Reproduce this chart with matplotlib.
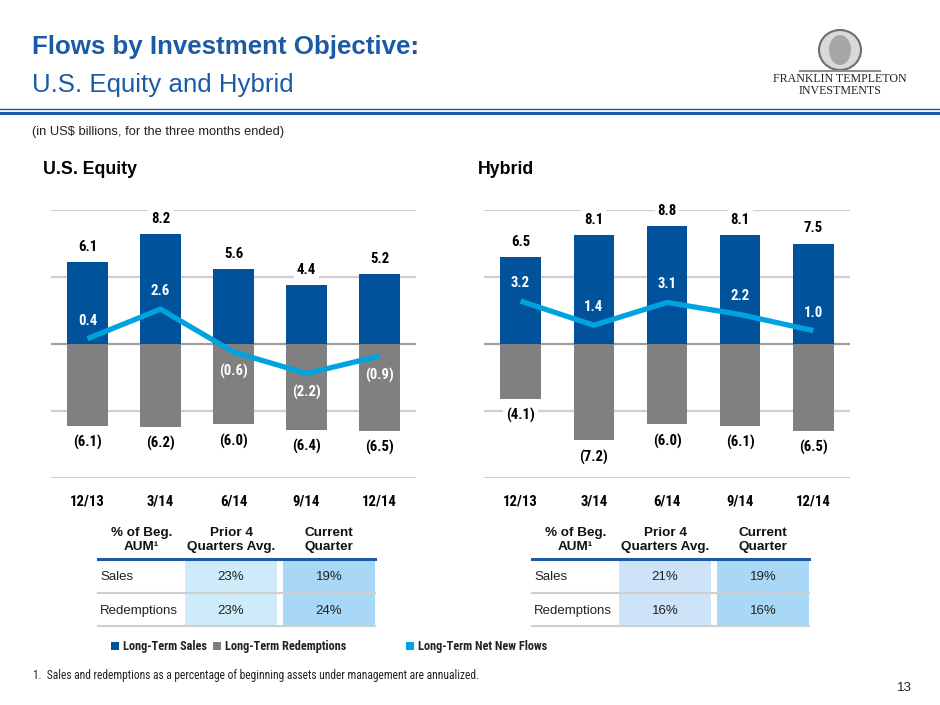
import numpy as np
import matplotlib
matplotlib.use('Agg')
import matplotlib.pyplot as plt
from matplotlib import font_manager as fm
from matplotlib.patches import Rectangle, Ellipse

# ---------------- data ----------------
quarters = ['12/13', '3/14', '6/14', '9/14', '12/14']
equity_sales = [6.1, 8.2, 5.6, 4.4, 5.2]
equity_redemptions = [-6.1, -6.2, -6.0, -6.4, -6.5]
equity_net = [0.4, 2.6, -0.6, -2.2, -0.9]
hybrid_sales = [6.5, 8.1, 8.8, 8.1, 7.5]
hybrid_redemptions = [-4.1, -7.2, -6.0, -6.1, -6.5]
hybrid_net = [3.2, 1.4, 3.1, 2.2, 1.0]
table_columns = ['% of Beg.\nAUM\u00b9', 'Prior 4\nQuarters Avg.', 'Current\nQuarter']
table_rows = ['Sales', 'Redemptions']
equity_table = [['23%', '19%'], ['23%', '24%']]
hybrid_table = [['21%', '19%'], ['16%', '16%']]
series_names = ['Long-Term Sales', 'Long-Term Redemptions', 'Long-Term Net New Flows']

# ---------------- style ----------------
SALES = '#00529B'
GRAY = '#808080'
NET = '#00A3E0'
TITLE = '#1B5AA5'
GRID = '#CFCFCF'
SANS = ['Liberation Sans', 'DejaVu Sans']
plt.rcParams['font.family'] = SANS


def pick_narrow():
    entries = fm.fontManager.ttflist
    names = {e.name for e in entries}
    for name, k in [('Liberation Sans Narrow', 1.0), ('Arial Narrow', 1.0),
                    ('Roboto Condensed', 1.0), ('Open Sans Condensed', 0.95),
                    ('Noto Sans Condensed', 0.95), ('DejaVu Sans Condensed', 0.9)]:
        if name in names:
            return dict(family=[name, 'DejaVu Sans']), k
    for fam, k in [('Roboto', 1.0), ('Noto Sans', 0.95), ('Open Sans', 0.95), ('DejaVu Sans', 0.88)]:
        if any(e.name == fam and str(e.stretch) in ('condensed', 'semi-condensed')
               and str(e.weight) in ('700', 'bold') for e in entries):
            return dict(family=[fam], fontstretch='condensed'), k
    return dict(family=SANS), 0.85


NARROW, K = pick_narrow()

W, H = 940, 705
fig = plt.figure(figsize=(W / 100, H / 100), dpi=100)
fig.patch.set_facecolor('white')

# overlay in pixel coordinates
ov = fig.add_axes([0, 0, 1, 1])
ov.set_xlim(0, W)
ov.set_ylim(H, 0)
ov.axis('off')


def fmt(v):
    return f'({abs(v):.1f})' if v < 0 else f'{v:.1f}'


# ---------------- header ----------------
ov.text(32, 47, 'Flows by Investment Objective:', color=TITLE, fontsize=18.6,
        fontweight='bold', va='center', ha='left')
ov.text(32, 85, 'U.S. Equity and Hybrid', color=TITLE, fontsize=18.6,
        va='center', ha='left')
ov.plot([0, W], [108.5, 108.5], color=TITLE, lw=1.0)
ov.plot([0, W], [113, 113], color=TITLE, lw=2.2)
ov.text(32, 132, '(in US$ billions, for the three months ended)', fontsize=9.3,
        color='#222222', va='center', ha='left')

# logo (approximation)
ov.add_patch(Ellipse((840, 50), 42, 40, facecolor='#D9D9D9', edgecolor='#6E6E6E', lw=1.5))
ov.add_patch(Ellipse((840, 50), 22, 30, facecolor='#A6A6A6', edgecolor='none'))
ov.plot([800, 880], [71, 71], color='#8C8C8C', lw=1.5)
ov.text(840, 79, 'FRANKLIN TEMPLETON', family=['Liberation Serif', 'DejaVu Serif'],
        fontsize=8.6, ha='center', va='center', color='#222222')
ov.text(840, 90.5, 'INVESTMENTS', family=['Liberation Serif', 'DejaVu Serif'],
        fontsize=8.6, ha='center', va='center', color='#222222')

ov.text(43, 170, 'U.S. Equity', fontsize=12.8, fontweight='bold', va='center', ha='left')
ov.text(478, 170, 'Hybrid', fontsize=12.8, fontweight='bold', va='center', ha='left')

LAB = 10.6 * K


# ---------------- charts ----------------
def chart(x0, x1, sales, red, net):
    y_top, y_bot = 210, 478
    ax = fig.add_axes([x0 / W, (H - y_bot) / H, (x1 - x0) / W, (y_bot - y_top) / H])
    ax.set_facecolor('none')
    ax.set_xlim(-0.5, len(quarters) - 0.5)
    ax.set_ylim(-10, 10)
    x = np.arange(len(quarters))
    for v in (10, 5, -5, -10):
        ax.axhline(v, color=GRID, lw=1.6, zorder=0)
    ax.axhline(0, color='#A0A0A0', lw=1.6, zorder=0.5)
    ax.bar(x, sales, width=0.55, color=SALES, zorder=1)
    ax.bar(x, red, width=0.55, color=GRAY, zorder=1)
    ax.plot(x, net, color=NET, lw=3.8, zorder=3, solid_capstyle='butt')
    for xi, v in zip(x, sales):
        ax.annotate(fmt(v), (xi, v), xytext=(0, 11), textcoords='offset points',
                    ha='center', va='center', fontsize=LAB, fontweight='bold',
                    zorder=4, bbox=dict(fc='white', ec='none', pad=2), **NARROW)
    for xi, v in zip(x, red):
        ax.annotate(fmt(v), (xi, v), xytext=(0, -12), textcoords='offset points',
                    ha='center', va='center', fontsize=LAB, fontweight='bold',
                    zorder=4, bbox=dict(fc='white', ec='none', pad=2), **NARROW)
    for xi, v in zip(x, net):
        off = 13 if v >= 0 else -14
        ax.annotate(fmt(v), (xi, v), xytext=(0, off), textcoords='offset points',
                    ha='center', va='center', fontsize=LAB, fontweight='bold',
                    color='white', zorder=5, **NARROW)
    ax.set_yticks([])
    ax.set_xticks(x, quarters)
    for lab in ax.get_xticklabels():
        lab.set_fontsize(LAB)
        lab.set_fontweight('bold')
        lab.set_family(NARROW['family'])
        if 'fontstretch' in NARROW:
            lab.set_fontstretch(NARROW['fontstretch'])
    ax.tick_params(axis='x', length=0, pad=12)
    for s in ax.spines.values():
        s.set_visible(False)
    return ax


chart(51, 416, equity_sales, equity_redemptions, equity_net)
chart(484, 850, hybrid_sales, hybrid_redemptions, hybrid_net)


# ---------------- tables ----------------
def table(x0, cells, prior_color, current_color):
    cols = [(x0, x0 + 87), (x0 + 87, x0 + 179), (x0 + 185, x0 + 277)]
    x_end = x0 + 277
    for (a, b), head in zip(cols, table_columns):
        ov.text((a + b) / 2, 540, head, ha='center', va='center', fontsize=9.7,
                fontweight='bold', linespacing=1.15, color='#111111')
    ov.add_patch(Rectangle((cols[1][0], 560), cols[1][1] - cols[1][0], 66,
                           facecolor=prior_color, edgecolor='none'))
    ov.add_patch(Rectangle((cols[2][0], 560), cols[2][1] - cols[2][0], 66,
                           facecolor=current_color, edgecolor='none'))
    ov.plot([x0, x_end], [559, 559], color='#1F5AA6', lw=2.2)
    ov.plot([x0, x_end], [593, 593], color='#CFCFCF', lw=1.5)
    ov.plot([x0, x_end], [626, 626], color='#CFCFCF', lw=1.5)
    for r, (row, vals) in enumerate(zip(table_rows, cells)):
        y = 577 + r * 34
        ov.text(x0 + 2, y, row, ha='left', va='center', fontsize=9.5, color='#222222')
        for (a, b), v in zip(cols[1:], vals):
            ov.text((a + b) / 2, y, v, ha='center', va='center', fontsize=9.5,
                    color='#222222')


table(98, equity_table, '#CDEBF8', '#A8D8F5')
table(532, hybrid_table, '#CDE3F7', '#A8D8F5')

# ---------------- legend ----------------
legend_colors = [SALES, GRAY, NET]
legend_x = [111, 213, 406]
for name, c, lx in zip(series_names, legend_colors, legend_x):
    ov.add_patch(Rectangle((lx, 642), 8, 8, facecolor=c, edgecolor='none'))
    ov.text(lx + 12, 646.5, name, ha='left', va='center', fontsize=8.8 * K,
            fontweight='bold', color='#222222', **NARROW)

ov.text(33, 676, '1.  Sales and redemptions as a percentage of beginning assets under management are annualized.',
        ha='left', va='center', fontsize=8.3 * K, color='#222222', **NARROW)
ov.text(912, 688, '13', ha='right', va='center', fontsize=9.5, color='#222222')

fig.savefig('out.png', dpi=100, facecolor='white')
